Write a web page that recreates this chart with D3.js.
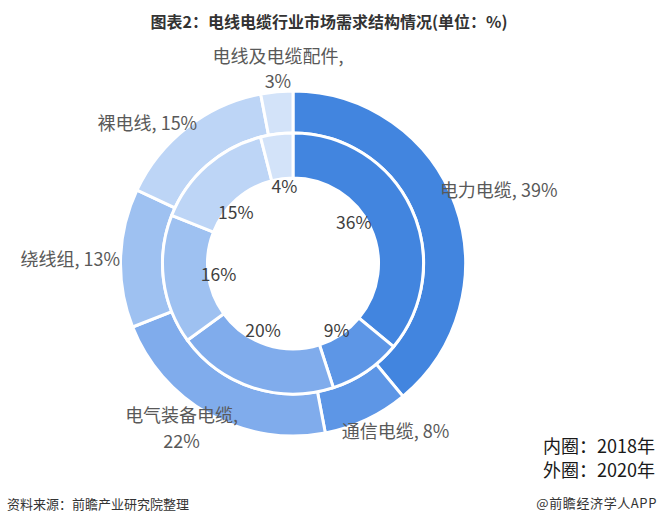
<!DOCTYPE html>
<html><head><meta charset="utf-8">
<script src="https://cdn.jsdelivr.net/npm/d3@7"></script>
<style>body{margin:0;background:#fff}svg{display:block}text{font-family:"Noto Sans CJK SC","Noto Sans",sans-serif}</style>
</head><body>
<svg id="c" width="659" height="523"></svg>
<script>
// ---- data ----
const categories = ["电力电缆","通信电缆","电气装备电缆","绕线组","裸电线","电线及电缆配件"];
const inner2018 = [36, 9, 20, 16, 15, 4];
const outer2020 = [39, 8, 22, 13, 15, 3];
const ringYears = ["内圈：2018年", "外圈：2020年"];
const titleText = "图表2：电线电缆行业市场需求结构情况(单位：%)";
const sourceText = "资料来源：前瞻产业研究院整理";
const brandText = "@前瞻经济学人APP";

// ---- styles / layout ----
const colors = ["#4285DF","#5D96E6","#80ACEC","#9EC1F1","#BDD5F6","#D3E3F9"];
const cx = 293, cy = 263.5;
const outerR = [130.5, 172.5], innerR = [85.5, 130.5];
// label nudges (layout only)
const innerLabelR = 76;
const innerNudge = [[-8,-9.5],[1,3.5],[-6.5,-6],[1,0],[-7,5],[1,-3]];
// outer label: anchor, dx, dy for each line relative to outer edge point at mid angle
const outerLabelLayout = [
  {anchor:"start", dx:-14, lines:[-16.5], split:false},
  {anchor:"start", dx:-24, lines:[12], split:false},
  {anchor:"middle", dx:-29, lines:[1, 27], split:true},
  {anchor:"end", dx:-2, lines:[0], split:false},
  {anchor:"end", dx:9, lines:[-6.5], split:false},
  {anchor:"middle", dx:1, lines:[-38, -13], split:true}
];

const svg = d3.select("#c");
const g = svg.append("g").attr("transform", `translate(${cx},${cy})`);
const pie = d3.pie().sort(null).value(d => d);

function ring(values, radii, cls) {
  const arc = d3.arc().innerRadius(radii[0]).outerRadius(radii[1]);
  g.append("g").attr("class", cls).selectAll("path")
    .data(pie(values)).join("path")
    .attr("d", arc)
    .attr("fill", (d,i) => colors[i])
    .attr("stroke", "#fff").attr("stroke-width", 3).attr("stroke-linejoin","miter");
}
ring(outer2020, outerR, "outer");
ring(inner2018, innerR, "inner");

// inner labels
const innerArcs = pie(inner2018);
g.append("g").selectAll("text").data(innerArcs).join("text")
  .attr("x", (d,i) => innerLabelR*Math.sin((d.startAngle+d.endAngle)/2) + innerNudge[i][0])
  .attr("y", (d,i) => -innerLabelR*Math.cos((d.startAngle+d.endAngle)/2) + innerNudge[i][1])
  .attr("text-anchor","middle").attr("dominant-baseline","central")
  .attr("font-size", 17.5).attr("fill", "#404040")
  .text(d => d.data + "%");

// outer labels
const outerArcs = pie(outer2020);
const edgeR = 171;
outerArcs.forEach((d,i) => {
  const a = (d.startAngle + d.endAngle)/2;
  const px = edgeR*Math.sin(a), py = -edgeR*Math.cos(a);
  const L = outerLabelLayout[i];
  const lines = L.split ? [categories[i] + ",", d.data + "%"] : [categories[i] + ", " + d.data + "%"];
  lines.forEach((t, k) => {
    g.append("text")
      .attr("x", px + L.dx).attr("y", py + L.lines[k])
      .attr("text-anchor", L.anchor).attr("dominant-baseline","central")
      .attr("font-size", 18).attr("fill", "#595959")
      .text(t);
  });
});

// title
svg.append("text").attr("x", 329).attr("y", 21).attr("text-anchor","middle")
  .attr("dominant-baseline","central")
  .attr("font-size", 16).attr("font-weight","bold").attr("fill","#333")
  .text(titleText);

// ring legend
svg.append("g").selectAll("text").data(ringYears).join("text")
  .attr("x", 543).attr("y", (d,i) => 445 + i*23.5)
  .attr("dominant-baseline","central")
  .attr("font-size", 18).attr("fill","#1a1a1a")
  .text(d => d);

// footer
svg.append("text").attr("x", 7).attr("y", 503).attr("dominant-baseline","central")
  .attr("font-size", 13).attr("fill","#333").text(sourceText);
svg.append("text").attr("x", 657).attr("y", 502).attr("text-anchor","end")
  .attr("dominant-baseline","central")
  .attr("font-size", 13).attr("fill","#333").attr("letter-spacing", 0.6).text(brandText);
</script>
</body></html>
